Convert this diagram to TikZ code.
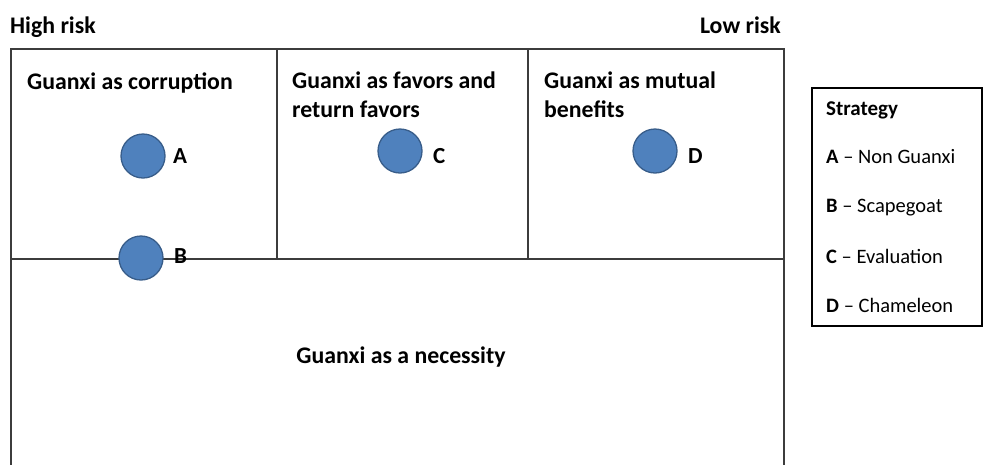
\documentclass[tikz,border=0pt]{standalone}
\usepackage{fontspec}
\setmainfont{Carlito}
\definecolor{dotfill}{HTML}{4F81BD}
\definecolor{dotline}{HTML}{385D8A}
\definecolor{frame}{HTML}{3C3C3C}
\begin{document}
\begin{tikzpicture}[x=1pt,y=-1pt,
  boxline/.style={draw=frame,line width=1.3pt},
  dot/.style={circle,fill=dotfill,draw=dotline,line width=1.3pt,minimum size=44pt,inner sep=0pt},
  big/.style={font=\fontsize{23.8}{29}\selectfont\bfseries,inner sep=0pt},
  head/.style={big,anchor=base west,align=left},
  dotlabel/.style={font=\fontsize{23}{29}\selectfont\bfseries,inner sep=0pt,anchor=base west},
  legend/.style={font=\fontsize{20.5}{22}\selectfont,anchor=base west,inner sep=0pt}]
\useasboundingbox (0,0) rectangle (984,464);
% main grid
\draw[boxline] (11,470) -- (11,49) -- (784,49) -- (784,470);
\draw[boxline] (277,49) -- (277,259);
\draw[boxline] (528,49) -- (528,259);
\draw[boxline] (11,259) -- (784,259);
% axis ends
\node[big,anchor=base west] (hi) at (10,33) {High risk};
\node[big,anchor=base east] (lo) at (781,33) {Low risk};
% cell titles (base anchor sits on the last line)
\node[head] (t1) at (27,89) {Guanxi as corruption};
\node[head] (t2) at (292,117) {Guanxi as favors and\\return favors};
\node[head] (t3) at (544,117) {Guanxi as mutual\\benefits};
\node[big,anchor=base] (t4) at (401,363) {Guanxi as a necessity};
% strategy markers
\node[dot] (a) at (143,156) {};
\node[dotlabel] (la) at (173,163) {A};
\node[dot] (b) at (141,258) {};
\node[dotlabel] (lb) at (174,263) {B};
\node[dot] (c) at (400,151) {};
\node[dotlabel] (lc) at (433,163) {C};
\node[dot] (d) at (655,151) {};
\node[dotlabel] (ld) at (688,163) {D};
% legend
\draw[line width=1.3pt] (812,88) rectangle (982,326);
\node[legend,font=\fontsize{21}{22}\selectfont\bfseries] (lg) at (826,115) {Strategy};
\node[legend] (ga) at (826,163) {\textbf{A} -- Non Guanxi};
\node[legend] (gb) at (826,212) {\textbf{B} -- Scapegoat};
\node[legend] (gc) at (826,263) {\textbf{C} -- Evaluation};
\node[legend] (gd) at (826,312) {\textbf{D} -- Chameleon};
\end{tikzpicture}
\end{document}
